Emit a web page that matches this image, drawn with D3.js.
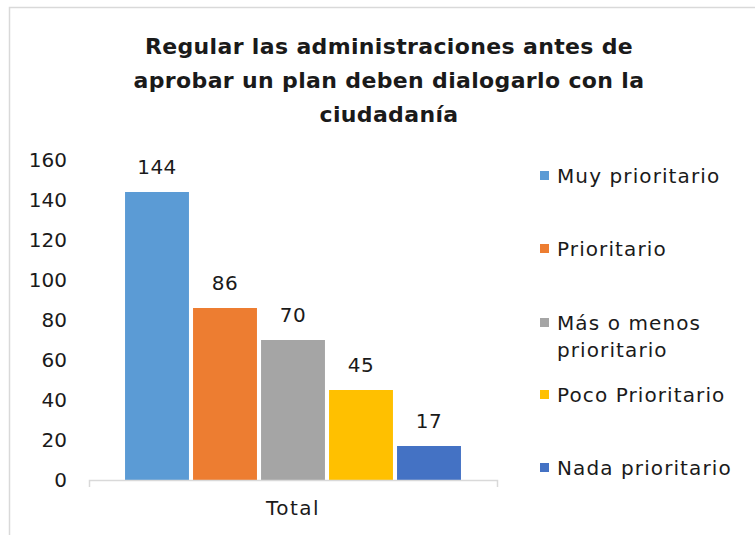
<!DOCTYPE html>
<html>
<head>
<meta charset="utf-8">
<script src="https://cdn.jsdelivr.net/npm/d3@7"></script>
<style>
	body { margin: 0; background: #fff; }
	text { font-family: "DejaVu Sans", sans-serif; fill: #1a1a1a; }
</style>
</head>
<body>
<div id="chart"></div>
<script>
var categories = ["Total"];
var series = ["Muy prioritario", "Prioritario", "Más o menos prioritario", "Poco Prioritario", "Nada prioritario"];
var values = [144, 86, 70, 45, 17];
var colors = ["#5B9BD5", "#ED7D31", "#A5A5A5", "#FFC000", "#4472C4"];
var yTicks = [0, 20, 40, 60, 80, 100, 120, 140, 160];
var titleLines = ["Regular las administraciones antes de", "aprobar un plan deben dialogarlo con la", "ciudadanía"];

var width = 755;
var height = 535;

var svg = d3.select("#chart").append("svg")
	.attr("width", width)
	.attr("height", height);

// marco
svg.append("rect")
	.attr("x", 9.5)
	.attr("y", 7.5)
	.attr("width", 760)
	.attr("height", 540)
	.attr("fill", "none")
	.attr("stroke", "#D9D9D9")
	.attr("stroke-width", 1.5);

// título
svg.append("g").selectAll("text")
	.data(titleLines)
	.enter()
	.append("text")
	.attr("x", 389)
	.attr("y", function(d, i) { return 54 + i * 34; })
	.attr("text-anchor", "middle")
	.style("font-size", "22px")
	.style("font-weight", "bold")
	.style("letter-spacing", "0.35px")
	.text(function(d) { return d; });

var x0 = d3.scaleBand()
	.domain(categories)
	.range([89, 497]);

var x1 = d3.scaleBand()
	.domain(series)
	.range([0, x0.bandwidth()])
	.paddingInner(0.06)
	.paddingOuter(0.53);

var y = d3.scaleLinear()
	.domain([0, 160])
	.range([480, 160]);

// eje y (solo etiquetas)
svg.append("g").selectAll("text")
	.data(yTicks)
	.enter()
	.append("text")
	.attr("x", 67)
	.attr("y", function(d) { return y(d); })
	.attr("dy", "0.35em")
	.attr("text-anchor", "end")
	.style("font-size", "20px")
	.text(function(d) { return d; });

// barras
var group = svg.append("g").selectAll("g")
	.data(categories)
	.enter()
	.append("g")
	.attr("transform", function(d) { return "translate(" + x0(d) + ",0)"; });

group.selectAll("rect")
	.data(function(d) {
		return series.map(function(s, i) { return {key: s, value: values[i], color: colors[i]}; });
	})
	.enter()
	.append("rect")
	.attr("x", function(d) { return x1(d.key); })
	.attr("y", function(d) { return y(d.value); })
	.attr("width", x1.bandwidth())
	.attr("height", function(d) { return y(0) - y(d.value); })
	.attr("fill", function(d) { return d.color; });

group.selectAll(".label")
	.data(function(d) {
		return series.map(function(s, i) { return {key: s, value: values[i]}; });
	})
	.enter()
	.append("text")
	.classed("label", true)
	.attr("x", function(d) { return x1(d.key) + x1.bandwidth() / 2; })
	.attr("y", function(d) { return y(d.value) - 25; })
	.attr("dy", "0.35em")
	.attr("text-anchor", "middle")
	.style("font-size", "20px")
	.style("letter-spacing", "0.5px")
	.text(function(d) { return d.value; });

// eje x
var xAxis = svg.append("g")
	.attr("transform", "translate(0," + y(0) + ")")
	.call(d3.axisBottom(x0).tickSize(0).tickPadding(21).tickSizeOuter(7));
xAxis.select(".domain")
	.attr("stroke", "#D9D9D9")
	.attr("stroke-width", 1.5);
xAxis.selectAll(".tick text")
	.style("font-size", "20px")
	.style("letter-spacing", "1.5px")
	.attr("fill", "#1a1a1a")
	.style("font-family", "DejaVu Sans, sans-serif");

// leyenda
var legendY = [176, 249, 323, 395, 468];
var legend = svg.append("g").selectAll("g")
	.data(series)
	.enter()
	.append("g")
	.attr("transform", function(d, i) { return "translate(540," + legendY[i] + ")"; });

legend.append("rect")
	.attr("x", 0)
	.attr("y", -5)
	.attr("width", 9)
	.attr("height", 9)
	.attr("fill", function(d, i) { return colors[i]; });

legend.append("text")
	.attr("x", 17)
	.attr("y", 0)
	.style("font-size", "20px")
	.style("letter-spacing", "1.1px")
	.each(function(d) {
		var t = d3.select(this);
		var parts = d === "Más o menos prioritario" ? ["Más o menos", "prioritario"] : [d];
		parts.forEach(function(p, i) {
			t.append("tspan")
				.attr("x", 17)
				.attr("dy", i === 0 ? "0.35em" : "27px")
				.text(p);
		});
	});
</script>
</body>
</html>
